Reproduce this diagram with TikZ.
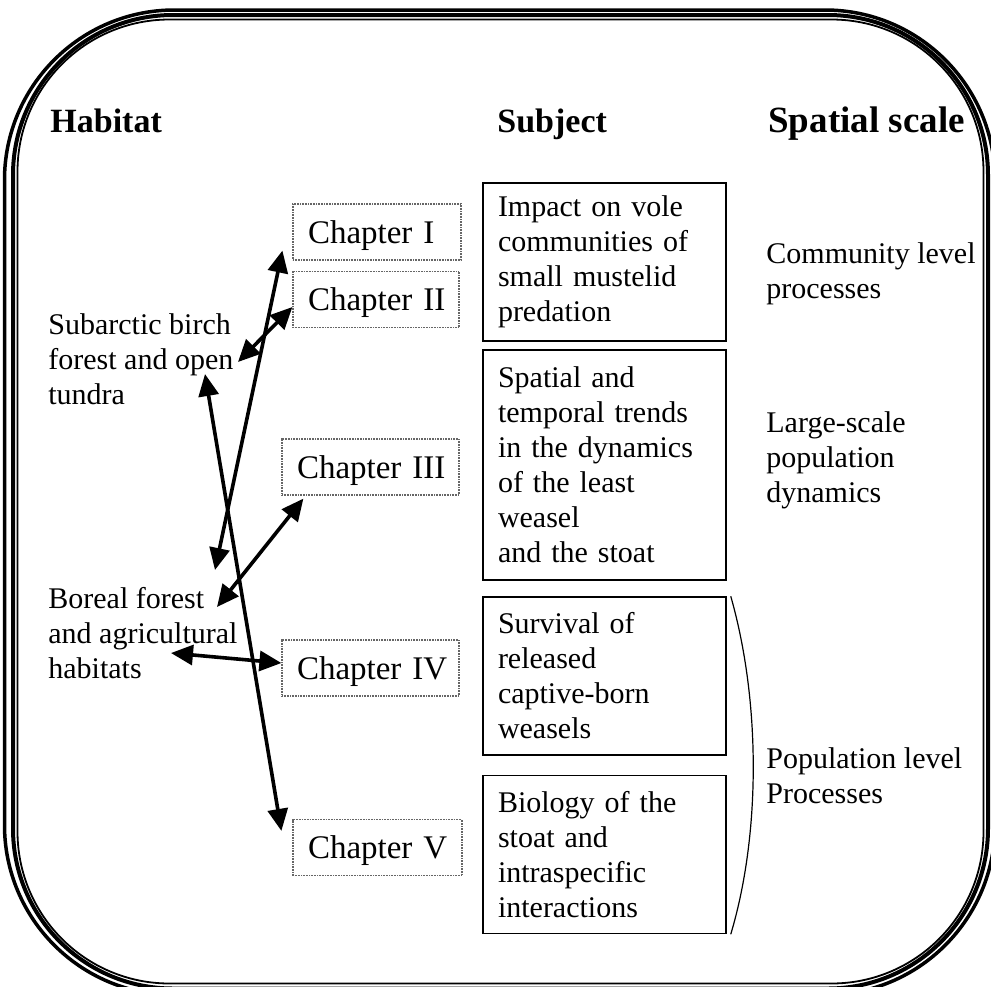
\documentclass[tikz,border=0pt]{standalone}
\usepackage{fontspec}
\setmainfont{Liberation Serif}
\usetikzlibrary{arrows.meta,calc}

\begin{document}
\begin{tikzpicture}[
    x=0.5pt, y=-0.5pt,
    >={Triangle[length=11pt,width=10pt]},
    link/.style={<->,line width=1.8pt},
    heading/.style={font=\fontsize{17}{20}\selectfont\bfseries,anchor=base west,inner sep=0pt},
    note/.style={font=\fontsize{15}{17.5}\selectfont,align=left,anchor=west,inner sep=0pt},
    chapbox/.style={draw=black!60,line width=0.6pt,dash pattern=on 0.5pt off 0.3pt,font=\fontsize{16.5}{20}\selectfont,align=left,inner xsep=7.5pt,minimum height=28pt,text depth=0pt},
    subjbox/.style={draw,line width=0.75pt,font=\fontsize{15}{17.5}\selectfont,align=left,text width=106.5pt,inner xsep=7.5pt,minimum height=79pt}
]
\useasboundingbox (0,0) rectangle (991,986);

% --- Frame ---
\draw[line width=1.75pt,rounded corners=85pt] (4.5,10) rectangle (995,995);
\draw[line width=2pt,rounded corners=80pt] (13,15) rectangle (988,988.5);
\draw[line width=0.9pt,rounded corners=76pt] (17.5,19.5) rectangle (983.5,983.5);

% --- Headings ---
\node[heading] (hab)   at (50,132)  {Habitat};
\node[heading] (subj)  at (497,132) {Subject};
\node[heading,font=\fontsize{18.5}{20}\selectfont\bfseries] (scale) at (768,132) {Spatial scale};

% Habitats
\node[note] (sub) at (48,359) {Subarctic birch\\forest and open\\tundra};
\node[note] (bor) at (48,633) {Boreal forest\\and agricultural\\habitats};

% Chapters
\node[chapbox,text width=69pt]   (ChI)   at (377,232)   {Chapter~I};
\node[chapbox,text width=68pt]   (ChII)  at (376,299.5) {Chapter~II};
\node[chapbox,text width=73.5pt] (ChIII) at (370.5,467) {Chapter~III};
\node[chapbox,text width=73.5pt] (ChIV)  at (370.5,668) {Chapter~IV};
\node[chapbox,text width=69.5pt] (ChV)   at (377.5,847.5) {Chapter~V};

% Subjects
\node[subjbox] (imp) at (604.5,262) {Impact on vole\\communities of\\small mustelid\\predation};
\node[subjbox,minimum height=115pt] (dyn) at (604.5,465) {Spatial and\\temporal trends\\in the dynamics\\of the least\\weasel\\and the stoat};
\node[subjbox] (surv) at (604.5,676)   {Survival of\\released\\captive-born\\weasels};
\node[subjbox] (bio)  at (604.5,854.5) {Biology of the\\stoat and\\intraspecific\\interactions};

% Spatial scales
\node[note] (comm)  at (766,274) {Community level\\processes};
\node[note] (large) at (766,460) {Large-scale\\population\\dynamics};
\node[note] (pop)   at (766,776) {Population level\\Processes};

% Bracket over the last two subjects
\draw[line width=0.6pt] ([xshift=2pt]surv.north east) .. controls +(30,105) and +(30,-100) .. ([xshift=2pt]bio.south east);

% --- Arrow ends at the habitats ---
\coordinate (subR) at (238,362);
\coordinate (subB) at (205,374);
\coordinate (borT) at (215,570);
\coordinate (borR) at (217,607);
\coordinate (borL) at (171,653);

% --- Links ---
\draw[link] (borT) -- ([shift={(-10,-10)}]ChI.south west);
\draw[link] (subR) -- ([shift={(0,7.5)}]ChII.west);
\draw[link] (subB) -- ([shift={(-11,12)}]ChV.north west);
\draw[link] (borR) -- ([shift={(22,3)}]ChIII.south west);
\draw[link] (borL) -- ([shift={(0,-5)}]ChIV.west);
\end{tikzpicture}
\end{document}
